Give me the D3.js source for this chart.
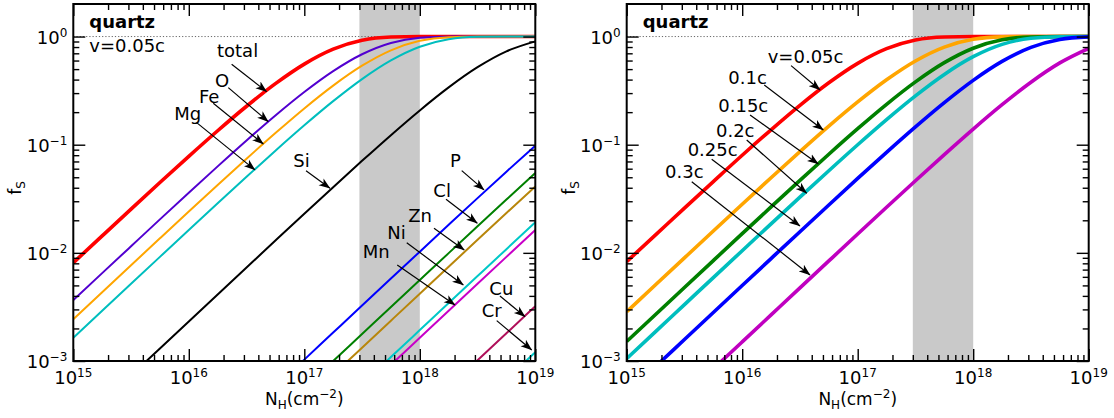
<!DOCTYPE html>
<html><head><meta charset="utf-8">
<script src="https://cdn.jsdelivr.net/npm/d3@7"></script>
<style>
body{margin:0;background:#fff;}
text{font-family:"DejaVu Sans",sans-serif;fill:#000;}
</style></head>
<body><svg id="chart" width="1114" height="418"></svg>
<script>
// ---- data ----
const nh = [1e15,1.778e15,3.162e15,5.623e15,1e16,1.778e16,3.162e16,5.623e16,1e17,1.778e17,3.162e17,5.623e17,1e18,1.778e18,3.162e18,5.623e18,1e19];
const xTicksMajor = [1e15,1e16,1e17,1e18,1e19];
const xTickExp = ["15","16","17","18","19"];
const yTicksMajor = [1e-3,1e-2,1e-1,1];
const yTickExp = ["\u22123","\u22122","\u22121","0"];
const shadeRange = [3e17,1e18];

// left panel: v = 0.05c, elements
const fTotal = [0.0081,0.01435,0.02538,0.04469,0.0781,0.1346,0.2267,0.367,0.5565,0.7645,0.9235,0.9897,0.9997,1,1,1,1];
const fO  = [0.003656,0.006492,0.01151,0.02039,0.03597,0.06305,0.1094,0.1861,0.3067,0.4787,0.6859,0.8725,0.9743,0.9985,1,1,1];
const fFe = [0.002436,0.004328,0.007682,0.01362,0.0241,0.04244,0.07422,0.1281,0.2165,0.3519,0.5375,0.7462,0.9128,0.9869,0.99955,1,1];
const fMg = [0.001638,0.002911,0.005171,0.009176,0.01626,0.02873,0.05052,0.08806,0.1512,0.2528,0.4045,0.6022,0.8059,0.9458,0.9944,0.9999,1];
const fSi = [0.000233,0.000413,0.000735,0.001307,0.002323,0.004126,0.007326,0.01299,0.02299,0.04051,0.07089,0.1226,0.2075,0.3387,0.5207,0.7296,0.9023];
const fP  = [1.031e-5,1.833e-5,3.26e-5,5.797e-5,1.031e-4,1.833e-4,3.26e-4,5.795e-4,0.00103,0.001831,0.003255,0.00578,0.01026,0.01816,0.03207,0.05633,0.09794];
const fCl = [5.62e-6,9.99e-6,1.776e-5,3.159e-5,5.618e-5,9.989e-5,1.776e-4,3.159e-4,5.618e-4,9.99e-4,0.001776,0.003157,0.005602,0.009939,0.01758,0.03109,0.05463];
const fZn = [4.2e-6,7.47e-6,1.329e-5,2.363e-5,4.2e-5,7.47e-5,1.329e-4,2.363e-4,4.2e-4,7.47e-4,0.001328,0.00236,0.004193,0.007443,0.0132,0.02335,0.04115];
const fNi = [1.934e-6,3.439e-6,6.116e-6,1.088e-5,1.934e-5,3.439e-5,6.116e-5,1.088e-4,1.934e-4,3.439e-4,6.114e-4,0.001087,0.001932,0.003433,0.006097,0.01082,0.01916];
const fMn = [1.639e-6,2.915e-6,5.184e-6,9.218e-6,1.639e-5,2.915e-5,5.184e-5,9.218e-5,1.639e-4,2.915e-4,5.182e-4,9.214e-4,0.001638,0.002911,0.005171,0.009176,0.01626];
const fCu = [3.215e-7,5.717e-7,1.017e-6,1.808e-6,3.215e-6,5.717e-6,1.017e-5,1.808e-5,3.215e-5,5.717e-5,1.017e-4,1.808e-4,3.215e-4,5.716e-4,0.001016,0.001806,0.00321];
const fCr = [1.205e-7,2.142e-7,3.81e-7,6.775e-7,1.205e-6,2.142e-6,3.81e-6,6.775e-6,1.205e-5,2.142e-5,3.81e-5,6.775e-5,1.205e-4,2.142e-4,3.81e-4,6.773e-4,0.001204];

// right panel: total, by velocity
const fV005 = [0.0083,0.01465,0.02591,0.04562,0.0799,0.1374,0.2312,0.3738,0.5654,0.7723,0.9285,0.9908,0.9998,1,1,1,1];
const fV010 = [0.002853,0.005067,0.008993,0.01594,0.02817,0.04953,0.08637,0.1485,0.2485,0.3983,0.5948,0.7995,0.9426,0.9938,0.99988,1,1];
const fV015 = [0.001514,0.00269,0.00478,0.008484,0.01504,0.02658,0.04678,0.08167,0.1406,0.2362,0.3807,0.5734,0.7802,0.9324,0.9917,0.9998,1];
const fV020 = [0.001052,0.00187,0.003322,0.005902,0.01047,0.01855,0.03273,0.05747,0.09994,0.1707,0.2831,0.4467,0.6511,0.8461,0.9641,0.9973,1];
const fV025 = [0.0005,0.000889,0.00158,0.002808,0.004988,0.008851,0.01569,0.02773,0.04877,0.08507,0.1462,0.2451,0.3935,0.5889,0.7942,0.9399,0.9933];
const fV030 = [0.0001504,0.0002674,0.0004755,0.0008456,0.001503,0.00267,0.004744,0.00842,0.01493,0.02639,0.04644,0.08108,0.1396,0.2346,0.3785,0.5707,0.7777];

const leftSeries = [
  {name:"total", v:fTotal, c:"#ff0000", w:3.6},
  {name:"O",  v:fO,  c:"#5200d0", w:2},
  {name:"Fe", v:fFe, c:"#ffa500", w:2},
  {name:"Mg", v:fMg, c:"#00bebe", w:2},
  {name:"Si", v:fSi, c:"#000000", w:2},
  {name:"P",  v:fP,  c:"#0000ff", w:2},
  {name:"Cl", v:fCl, c:"#008000", w:2},
  {name:"Zn", v:fZn, c:"#b8860b", w:2},
  {name:"Ni", v:fNi, c:"#00c8c8", w:2},
  {name:"Mn", v:fMn, c:"#c800c8", w:2},
  {name:"Cu", v:fCu, c:"#b0105a", w:2},
  {name:"Cr", v:fCr, c:"#00c8c8", w:2}
];
const rightSeries = [
  {name:"0.05c", v:fV005, c:"#ff0000", w:3.6},
  {name:"0.1c",  v:fV010, c:"#ffa500", w:3.6},
  {name:"0.15c", v:fV015, c:"#008000", w:3.6},
  {name:"0.2c",  v:fV020, c:"#00bebe", w:3.6},
  {name:"0.25c", v:fV025, c:"#0000ff", w:3.6},
  {name:"0.3c",  v:fV030, c:"#c000c0", w:3.6}
];

// annotations: [label, text log10N, text log10f, arrow-from log10N, log10f, arrow-to log10N, log10f]
const leftNotes = [
  ["total",16.244,-0.191,16.371,-0.256,16.674,-0.509],
  ["O",16.227,-0.469,16.342,-0.472,16.688,-0.787],
  ["Fe",16.088,-0.611,16.212,-0.617,16.645,-0.993],
  ["Mg",15.874,-0.767,16.068,-0.796,16.573,-1.233],
  ["Si",16.905,-1.203,17.015,-1.240,17.222,-1.403],
  ["P",18.261,-1.203,18.363,-1.240,18.556,-1.418],
  ["Cl",18.117,-1.480,18.227,-1.504,18.498,-1.726],
  ["Zn",17.900,-1.712,18.123,-1.773,18.385,-1.973],
  ["Ni",17.719,-1.874,17.887,-1.906,18.377,-2.297],
  ["Mn",17.506,-2.050,17.805,-2.112,18.305,-2.482],
  ["Cu",18.602,-2.389,18.694,-2.399,18.911,-2.590],
  ["Cr",18.536,-2.595,18.666,-2.627,18.969,-2.898]
];
const rightNotes = [
  ["v=0.05c",16.221,-0.244,16.423,-0.269,16.674,-0.494],
  ["0.1c",15.880,-0.438,16.191,-0.448,16.702,-0.864],
  ["0.15c",15.793,-0.694,16.068,-0.725,16.659,-1.178],
  ["0.2c",15.773,-0.931,16.039,-0.956,16.558,-1.449],
  ["0.25c",15.528,-1.101,15.736,-1.135,16.500,-1.751],
  ["0.3c",15.332,-1.310,15.563,-1.342,16.587,-2.204]
];

// ---- drawing ----
const svg = d3.select("#chart");
const defs = svg.append("defs");
defs.append("marker").attr("id","arr").attr("viewBox","0 0 12 10")
  .attr("refX",11).attr("refY",5).attr("markerWidth",12).attr("markerHeight",10)
  .attr("markerUnits","userSpaceOnUse").attr("orient","auto")
  .append("path").attr("d","M0,0.8 L11.5,5 L0,9.2 L3,5 Z").attr("fill","#000");

const plotTop = 4, plotBottom = 361;

function panel(id, left, right, series, notes, extraText){
  const x = d3.scaleLog().domain([1e15,1e19]).range([left,right]);
  const y = d3.scaleLog().domain([1e-3,2]).range([plotBottom,plotTop]);
  const g = svg.append("g");
  defs.append("clipPath").attr("id","clip"+id).append("rect")
    .attr("x",left).attr("y",plotTop).attr("width",right-left).attr("height",plotBottom-plotTop);

  // shading
  g.append("rect").attr("x",x(shadeRange[0])).attr("y",plotTop)
    .attr("width",x(shadeRange[1])-x(shadeRange[0])).attr("height",plotBottom-plotTop)
    .attr("fill","#c9c9c9");
  // dotted line at 1
  g.append("line").attr("x1",left).attr("x2",right).attr("y1",y(1)).attr("y2",y(1))
    .attr("stroke","#666").attr("stroke-width",1).attr("stroke-dasharray","1.2,2");

  // curves
  const line = d3.line().x(d=>x(d[0])).y(d=>y(d[1])).curve(d3.curveMonotoneX);
  const cg = g.append("g").attr("clip-path",`url(#clip${id})`);
  series.forEach(s=>{
    cg.append("path").datum(nh.map((n,i)=>[n,s.v[i]]))
      .attr("d",line).attr("fill","none").attr("stroke",s.c)
      .attr("stroke-width",s.w).attr("stroke-linejoin","round");
  });

  // axes ticks
  const minorX = [];
  for(let e=15;e<19;e++) for(let k=2;k<10;k++) minorX.push(k*Math.pow(10,e));
  const minorY = [];
  for(let e=-3;e<0;e++) for(let k=2;k<10;k++) minorY.push(k*Math.pow(10,e));
  const style = sel=>{sel.select(".domain").remove(); sel.selectAll("line").attr("stroke","#000").attr("stroke-width",1.4); sel.selectAll("text").remove();};
  g.append("g").attr("transform",`translate(0,${plotBottom})`).call(d3.axisBottom(x).tickValues(xTicksMajor).tickSize(-12)).call(style);
  g.append("g").attr("transform",`translate(0,${plotBottom})`).call(d3.axisBottom(x).tickValues(minorX).tickSize(-6)).call(style);
  g.append("g").attr("transform",`translate(0,${plotTop})`).call(d3.axisTop(x).tickValues(xTicksMajor).tickSize(-12)).call(style);
  g.append("g").attr("transform",`translate(0,${plotTop})`).call(d3.axisTop(x).tickValues(minorX).tickSize(-6)).call(style);
  g.append("g").attr("transform",`translate(${left},0)`).call(d3.axisLeft(y).tickValues(yTicksMajor).tickSize(-12)).call(style);
  g.append("g").attr("transform",`translate(${left},0)`).call(d3.axisLeft(y).tickValues(minorY).tickSize(-6)).call(style);
  g.append("g").attr("transform",`translate(${right},0)`).call(d3.axisRight(y).tickValues(yTicksMajor).tickSize(-12)).call(style);
  g.append("g").attr("transform",`translate(${right},0)`).call(d3.axisRight(y).tickValues(minorY).tickSize(-6)).call(style);

  // frame
  g.append("rect").attr("x",left).attr("y",plotTop).attr("width",right-left).attr("height",plotBottom-plotTop)
    .attr("fill","none").attr("stroke","#000").attr("stroke-width",2);

  // tick labels
  xTicksMajor.forEach((v,i)=>{
    const t = g.append("text").attr("x",x(v)).attr("y",plotBottom+23).attr("text-anchor","middle").attr("font-size",18);
    t.append("tspan").text("10");
    t.append("tspan").attr("dy",-7).attr("font-size",12).text(xTickExp[i]);
  });
  yTicksMajor.forEach((v,i)=>{
    const t = g.append("text").attr("x",left-6).attr("y",y(v)+7).attr("text-anchor","end").attr("font-size",18);
    t.append("tspan").text("10");
    t.append("tspan").attr("dy",-7).attr("font-size",12).text(yTickExp[i]);
  });

  // axis labels
  const xl = g.append("text").attr("x",(left+right)/2).attr("y",405).attr("text-anchor","middle").attr("font-size",17);
  xl.append("tspan").text("N");
  xl.append("tspan").attr("dy",4).attr("font-size",12).text("H");
  xl.append("tspan").attr("dy",-4).text("(cm");
  xl.append("tspan").attr("dy",-7).attr("font-size",12).text("\u22122");
  xl.append("tspan").attr("dy",7).text(")");
  const yl = g.append("text").attr("transform",`translate(${left-52},188) rotate(-90)`).attr("text-anchor","middle").attr("font-size",17);
  yl.append("tspan").text("f");
  yl.append("tspan").attr("dy",4).attr("font-size",12).text("S");

  // title texts
  g.append("text").attr("x",left+16).attr("y",28.3).attr("font-size",18).attr("font-weight","bold").text("quartz");
  if(extraText) g.append("text").attr("x",left+16).attr("y",51.7).attr("font-size",18).text(extraText);

  // annotations
  notes.forEach(a=>{
    g.append("text").attr("x",x(10**a[1])).attr("y",y(10**a[2])).attr("font-size",18).text(a[0]);
    g.append("line").attr("x1",x(10**a[3])).attr("y1",y(10**a[4]))
      .attr("x2",x(10**a[5])).attr("y2",y(10**a[6]))
      .attr("stroke","#000").attr("stroke-width",1.2).attr("marker-end","url(#arr)");
  });
}

panel("L", 73.3, 535.3, leftSeries, leftNotes, "v=0.05c");
panel("R", 626.7, 1088.7, rightSeries, rightNotes, null);
</script>
</body></html>
